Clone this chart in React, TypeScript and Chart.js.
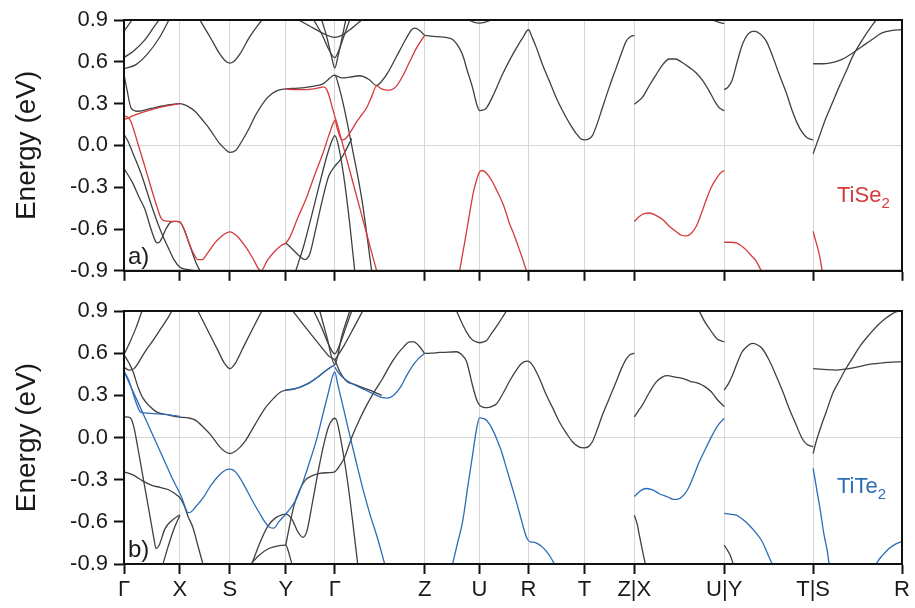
import React, { useEffect, useRef } from "react";
import { Chart, registerables } from "chart.js";
Chart.register(...registerables);

type Pt = [number, number];

// k-path positions of the high-symmetry points and their labels
const kPath = [0, 56, 106, 162, 211, 301, 356, 405, 461, 511, 601, 690, 779];
const kLabels = ["Γ", "X", "S", "Y", "Γ", "Z", "U", "R", "T", "Z|X", "U|Y", "T|S", "R"];
const eTicks = [-0.9, -0.6, -0.3, 0, 0.3, 0.6, 0.9];

// ---------- TiSe2 (panel a) : black bands ----------
const seTop1: Pt[] = [[0, 0.82], [4, 0.86], [8, 0.9]];
const seTop2: Pt[] = [[0, 0.63], [10, 0.68], [20, 0.75], [30, 0.85], [35, 0.9]];
const seTop3: Pt[] = [[0, 0.55], [12, 0.58], [24, 0.66], [36, 0.78], [45, 0.9]];
const seMain: Pt[] = [[0, 0.51], [3, 0.4], [7, 0.27], [14, 0.245], [27, 0.265], [44, 0.29], [56, 0.3], [64, 0.28], [71, 0.245], [80, 0.17], [87, 0.105], [95, 0.02], [101, -0.025], [106, -0.05], [112, -0.035], [118, 0.03], [124, 0.105], [132, 0.22], [141, 0.32], [148, 0.37], [154, 0.395], [162, 0.405], [172, 0.41], [181, 0.415], [194, 0.43], [200, 0.445], [204, 0.47], [208, 0.495], [211, 0.505], [216, 0.4], [221, 0.25], [228, 0.0], [238, -0.38], [248, -0.9]];
const seBump: Pt[] = [[211, 0.505], [218, 0.485], [226, 0.49], [236, 0.5], [245, 0.475], [253, 0.43], [258, 0.46], [264, 0.52], [273, 0.64], [282, 0.76], [288, 0.83], [291, 0.842], [296, 0.825], [301, 0.79]];
const seX1: Pt[] = [[0, 0.08], [4, 0.03], [8, -0.04], [17, -0.2], [27, -0.42], [36, -0.6], [44, -0.73], [50, -0.82], [56, -0.875], [63, -0.89], [72, -0.9]];
const seX2: Pt[] = [[0, -0.166], [8, -0.26], [15, -0.37], [21, -0.46], [27, -0.6], [31, -0.68], [33, -0.7], [36, -0.69], [42, -0.6], [47, -0.55], [52, -0.545], [56, -0.55], [60, -0.6], [66, -0.72], [72, -0.84], [76, -0.9]];
const seSTop: Pt[] = [[76, 0.9], [86, 0.78], [96, 0.655], [101, 0.61], [106, 0.59], [111, 0.61], [116, 0.655], [126, 0.78], [138, 0.9]];
const seYLow: Pt[] = [[162, -0.7], [168, -0.74], [175, -0.79], [181, -0.82], [186, -0.78], [192, -0.6], [199, -0.38], [205, -0.22], [211, -0.15], [216, -0.11], [221, -0.05], [228, 0.05]];
const seLambda: Pt[] = [[172, -0.9], [180, -0.72], [188, -0.5], [195, -0.3], [203, -0.08], [208, 0.03], [211, 0.07], [214, 0.02], [220, -0.22], [226, -0.56], [231, -0.9]];
const seGTop1: Pt[] = [[175, 0.9], [190, 0.84], [202, 0.795], [211, 0.775], [218, 0.79], [228, 0.84], [238, 0.9]];
const seGTop2: Pt[] = [[190, 0.9], [198, 0.8], [205, 0.69], [211, 0.63], [215, 0.68], [220, 0.78], [226, 0.9]];
const seGTop3: Pt[] = [[198, 0.9], [203, 0.78], [208, 0.63], [211, 0.555], [214, 0.63], [218, 0.76], [222, 0.9]];
const seZ: Pt[] = [[301, 0.79], [313, 0.78], [322, 0.775], [329, 0.76], [334, 0.72], [339, 0.65], [344, 0.53], [349, 0.415], [353, 0.3], [356, 0.25], [360, 0.255], [363, 0.27], [371, 0.38], [379, 0.51], [386, 0.61], [393, 0.7], [399, 0.77], [405, 0.83], [409, 0.77], [413, 0.7], [419, 0.58], [426, 0.46], [432, 0.355], [439, 0.25], [446, 0.16], [453, 0.083], [457, 0.05], [461, 0.04], [465, 0.045], [469, 0.07], [474, 0.16], [479, 0.27], [486, 0.42], [493, 0.56], [498, 0.66], [503, 0.75], [507, 0.78], [511, 0.79]];
const seUTop: Pt[] = [[345, 0.9], [350, 0.885], [356, 0.878], [362, 0.885], [368, 0.9]];
const seUYTop: Pt[] = [[589, 0.9], [595, 0.885], [601, 0.875]];
const seZX: Pt[] = [[511, 0.296], [519, 0.344], [526, 0.43], [533, 0.51], [540, 0.585], [546, 0.62], [552, 0.62], [559, 0.595], [566, 0.56], [573, 0.52], [580, 0.46], [586, 0.39], [592, 0.31], [596, 0.27], [601, 0.25]];
const seUY: Pt[] = [[601, 0.4], [605, 0.42], [609, 0.47], [614, 0.6], [619, 0.72], [625, 0.8], [631, 0.82], [637, 0.8], [643, 0.75], [650, 0.63], [656, 0.51], [663, 0.38], [669, 0.25], [674, 0.16], [679, 0.095], [684, 0.055], [690, 0.04]];
const seTS1: Pt[] = [[690, 0.586], [700, 0.586], [706, 0.59], [712, 0.6], [719, 0.617], [729, 0.66], [739, 0.71], [749, 0.76], [759, 0.807], [769, 0.825], [779, 0.83]];
const seTS2: Pt[] = [[690, -0.06], [693, 0.0], [696, 0.06], [702, 0.18], [709, 0.3], [716, 0.42], [723, 0.53], [729, 0.63], [736, 0.72], [744, 0.81], [753, 0.9]];

// ---------- TiSe2 (panel a) : red bands ----------
const seRed1: Pt[] = [[0, 0.185], [5, 0.2], [10, 0.215], [20, 0.24], [32, 0.265], [44, 0.285], [56, 0.3]];
const seRed2: Pt[] = [[0, 0.21], [4, 0.2], [7, 0.17], [14, 0.01], [20, -0.13], [27, -0.3], [33, -0.44], [37, -0.52], [40, -0.54], [47, -0.545], [53, -0.545], [56, -0.55], [60, -0.6], [65, -0.7], [70, -0.78], [74, -0.82], [78, -0.82], [84, -0.77], [91, -0.7], [98, -0.65], [106, -0.62], [113, -0.65], [121, -0.72], [129, -0.81], [137, -0.9], [144, -0.82], [151, -0.76], [157, -0.72], [162, -0.7], [166, -0.66], [174, -0.52], [183, -0.37], [191, -0.21], [199, -0.06], [205, 0.07], [209, 0.15], [211, 0.18], [214, 0.11], [218, 0.04], [222, 0.05], [228, 0.11], [233, 0.17], [238, 0.22], [243, 0.27], [248, 0.35], [253, 0.427], [258, 0.405], [264, 0.396], [268, 0.4], [273, 0.427], [280, 0.51], [286, 0.6], [293, 0.7], [301, 0.79]];
const seRed3: Pt[] = [[162, 0.405], [172, 0.4], [181, 0.4], [190, 0.405], [196, 0.415], [200, 0.42], [203, 0.4], [206, 0.34], [209, 0.26], [211, 0.21], [214, 0.14], [220, -0.02], [226, -0.18], [232, -0.34], [238, -0.5], [245, -0.69], [253, -0.9]];
const seRedU: Pt[] = [[336, -0.9], [341, -0.7], [346, -0.49], [350, -0.33], [353, -0.25], [356, -0.19], [359, -0.18], [363, -0.2], [368, -0.25], [373, -0.32], [380, -0.43], [386, -0.56], [391, -0.65], [396, -0.75], [403, -0.9]];
const seRedZX: Pt[] = [[511, -0.546], [516, -0.51], [521, -0.49], [526, -0.485], [532, -0.5], [539, -0.53], [546, -0.58], [553, -0.62], [558, -0.645], [563, -0.65], [568, -0.63], [573, -0.58], [578, -0.49], [583, -0.39], [588, -0.3], [593, -0.24], [597, -0.2], [601, -0.18]];
const seRedUY: Pt[] = [[601, -0.695], [607, -0.695], [613, -0.7], [618, -0.72], [623, -0.75], [628, -0.79], [633, -0.83], [638, -0.9]];
const seRedTS: Pt[] = [[690, -0.617], [692, -0.67], [694, -0.72], [697, -0.81], [699, -0.9]];

// ---------- TiTe2 (panel b) : black bands ----------
const teTop1: Pt[] = [[0, 0.59], [6, 0.68], [12, 0.78], [18, 0.9]];
const teTop2: Pt[] = [[0, 0.5], [5, 0.48], [10, 0.49], [21, 0.61], [30, 0.7], [37, 0.776], [43, 0.84], [48, 0.9]];
const teMain: Pt[] = [[0, 0.59], [5, 0.53], [9, 0.47], [14, 0.36], [19, 0.28], [26, 0.22], [33, 0.18], [45, 0.16], [56, 0.145], [64, 0.14], [71, 0.125], [80, 0.07], [87, 0.017], [95, -0.06], [101, -0.1], [106, -0.114], [111, -0.1], [116, -0.07], [121, -0.03], [131, 0.09], [141, 0.206], [150, 0.28], [156, 0.32], [162, 0.337], [170, 0.345], [177, 0.36], [186, 0.39], [194, 0.43], [201, 0.47], [207, 0.5], [211, 0.515]];
const teLow1: Pt[] = [[0, 0.147], [4, 0.145], [7, 0.135], [10, 0.07], [14, -0.08], [18, -0.24], [21, -0.36], [24, -0.48], [27, -0.6], [30, -0.72], [32, -0.79], [35, -0.77], [41, -0.65], [48, -0.59], [56, -0.55]];
const teLow2: Pt[] = [[0, -0.244], [10, -0.27], [19, -0.31], [28, -0.34], [36, -0.355], [44, -0.37], [49, -0.39], [53, -0.41], [56, -0.43], [60, -0.48], [64, -0.56], [69, -0.64], [74, -0.77], [79, -0.9]];
const teLow3: Pt[] = [[39, -0.9], [44, -0.78], [49, -0.67], [53, -0.6], [56, -0.555]];
const teSTop: Pt[] = [[74, 0.9], [84, 0.76], [94, 0.62], [100, 0.535], [106, 0.49], [112, 0.535], [120, 0.65], [130, 0.79], [138, 0.9]];
const teY1: Pt[] = [[127, -0.9], [135, -0.84], [145, -0.79], [155, -0.77], [162, -0.766], [165, -0.82], [168, -0.9]];
const teY2: Pt[] = [[128, -0.9], [136, -0.75], [144, -0.63], [152, -0.57], [158, -0.55], [162, -0.545], [168, -0.58], [174, -0.67], [179, -0.71], [183, -0.67], [189, -0.45], [195, -0.22], [200, -0.05], [205, 0.08], [209, 0.13], [211, 0.137], [213, 0.12], [218, -0.05], [224, -0.32], [229, -0.6], [234, -0.9]];
const teRise: Pt[] = [[162, -0.766], [166, -0.62], [170, -0.49], [176, -0.37], [182, -0.3], [186, -0.28], [196, -0.256], [205, -0.25], [211, -0.244], [216, -0.2], [221, -0.14], [225, -0.06], [229, 0.017], [236, 0.13], [243, 0.23], [251, 0.33], [259, 0.42], [266, 0.51], [273, 0.586], [280, 0.645], [286, 0.68], [290, 0.68], [295, 0.655], [301, 0.598]];
const teGTop1: Pt[] = [[169, 0.9], [180, 0.8], [190, 0.71], [198, 0.64], [205, 0.58], [211, 0.55], [216, 0.47], [223, 0.4], [232, 0.375], [241, 0.35], [250, 0.325], [258, 0.3]];
const teGTop2: Pt[] = [[190, 0.9], [198, 0.78], [205, 0.66], [211, 0.595], [216, 0.66], [222, 0.78], [228, 0.9]];
const teGTop3: Pt[] = [[196, 0.9], [203, 0.72], [211, 0.52], [218, 0.72], [226, 0.9]];
const teGTop4: Pt[] = [[211, 0.55], [220, 0.65], [230, 0.78], [239, 0.9]];
const teZ: Pt[] = [[301, 0.598], [308, 0.6], [316, 0.605], [325, 0.607], [333, 0.61], [338, 0.59], [343, 0.54], [346, 0.46], [349, 0.37], [353, 0.27], [356, 0.23], [360, 0.215], [364, 0.213], [368, 0.22], [373, 0.24], [380, 0.32], [386, 0.4], [392, 0.47], [398, 0.527], [404, 0.543], [409, 0.515], [416, 0.42], [423, 0.3], [430, 0.2], [436, 0.11], [443, 0.03], [449, -0.03], [455, -0.065], [461, -0.074], [465, -0.065], [469, -0.03], [474, 0.06], [479, 0.16], [486, 0.28], [493, 0.4], [498, 0.49], [503, 0.56], [507, 0.59], [511, 0.6]];
const teUTop: Pt[] = [[333, 0.9], [338, 0.82], [343, 0.75], [348, 0.7], [353, 0.68], [356, 0.674], [360, 0.68], [363, 0.69], [368, 0.74], [373, 0.79], [378, 0.845], [383, 0.9]];
const teZX: Pt[] = [[511, 0.147], [515, 0.19], [519, 0.23], [526, 0.32], [533, 0.396], [539, 0.43], [544, 0.44], [552, 0.43], [559, 0.42], [567, 0.4], [576, 0.384], [582, 0.36], [588, 0.325], [594, 0.27], [601, 0.22]];
const teZXTop: Pt[] = [[576, 0.9], [581, 0.83], [586, 0.776], [590, 0.735], [594, 0.7], [601, 0.68]];
const teZXLow: Pt[] = [[511, -0.553], [514, -0.62], [516, -0.695], [519, -0.8], [522, -0.9]];
const teUY: Pt[] = [[601, 0.337], [605, 0.38], [609, 0.44], [614, 0.53], [619, 0.61], [624, 0.65], [629, 0.67], [634, 0.66], [639, 0.633], [646, 0.55], [653, 0.44], [660, 0.32], [666, 0.206], [673, 0.09], [679, -0.007], [684, -0.05], [690, -0.066]];
const teUYLow: Pt[] = [[601, -0.766], [604, -0.8], [607, -0.837], [610, -0.9]];
const teTS1: Pt[] = [[690, 0.49], [700, 0.485], [713, 0.48], [726, 0.49], [736, 0.505], [746, 0.52], [762, 0.533], [779, 0.54]];
const teTS2: Pt[] = [[690, -0.114], [693, -0.03], [698, 0.08], [703, 0.18], [710, 0.32], [716, 0.4], [722, 0.48], [729, 0.56], [737, 0.65], [746, 0.73], [755, 0.8], [763, 0.85], [773, 0.894], [779, 0.9]];

// ---------- TiTe2 (panel b) : blue bands ----------
const teBlue1: Pt[] = [[0, 0.47], [4, 0.42], [8, 0.34], [12, 0.25], [16, 0.185], [20, 0.175], [30, 0.17], [40, 0.165], [50, 0.156], [56, 0.15]];
const teBlue2: Pt[] = [[0, 0.47], [7, 0.36], [14, 0.25], [21, 0.14], [28, 0.03], [35, -0.08], [42, -0.19], [49, -0.3], [54, -0.37], [58, -0.43], [61, -0.49], [64, -0.535], [67, -0.53], [71, -0.5], [80, -0.42], [87, -0.34], [95, -0.27], [101, -0.235], [106, -0.225], [111, -0.24], [118, -0.31], [127, -0.43], [135, -0.53], [141, -0.6], [146, -0.64], [150, -0.645], [155, -0.6], [162, -0.545], [168, -0.49], [173, -0.43], [180, -0.3], [186, -0.17], [193, -0.01], [199, 0.16], [205, 0.33], [209, 0.44], [211, 0.467], [214, 0.38], [220, 0.2], [226, 0.017], [232, -0.16], [239, -0.36], [246, -0.54], [254, -0.72], [261, -0.9]];
const teBlueYG: Pt[] = [[162, 0.337], [170, 0.345], [177, 0.36], [186, 0.39], [194, 0.43], [201, 0.47], [207, 0.5], [211, 0.515]];
const teBlueZ: Pt[] = [[211, 0.5], [216, 0.45], [223, 0.405], [232, 0.37], [241, 0.34], [250, 0.31], [258, 0.285], [264, 0.28], [270, 0.3], [277, 0.36], [283, 0.44], [290, 0.52], [296, 0.57], [301, 0.598]];
const teBlueU: Pt[] = [[329, -0.9], [334, -0.75], [339, -0.6], [344, -0.36], [349, -0.126], [353, 0.06], [356, 0.14], [360, 0.135], [363, 0.123], [368, 0.07], [373, -0.007], [378, -0.1], [383, -0.22], [388, -0.34], [393, -0.46], [398, -0.59], [403, -0.71], [406, -0.74], [410, -0.745], [414, -0.755], [419, -0.78], [423, -0.81], [427, -0.85], [431, -0.9]];
const teBlueZX: Pt[] = [[511, -0.42], [517, -0.38], [523, -0.363], [530, -0.375], [536, -0.4], [545, -0.425], [550, -0.44], [554, -0.44], [559, -0.42], [564, -0.375], [570, -0.28], [576, -0.173], [583, -0.07], [589, 0.017], [595, 0.09], [601, 0.135]];
const teBlueUY: Pt[] = [[601, -0.54], [606, -0.545], [613, -0.553], [620, -0.585], [626, -0.624], [633, -0.68], [639, -0.74], [644, -0.82], [649, -0.9]];
const teBlueTS: Pt[] = [[690, -0.22], [692, -0.3], [694, -0.387], [697, -0.51], [701, -0.695], [704, -0.8], [706, -0.9]];
const teBlueR: Pt[] = [[753, -0.9], [758, -0.85], [762, -0.82], [766, -0.79], [772, -0.76], [779, -0.74]];

const tise2Black = [seTop1, seTop2, seTop3, seMain, seBump, seX1, seX2, seSTop, seYLow, seLambda, seGTop1, seGTop2, seGTop3, seZ, seUTop, seUYTop, seZX, seUY, seTS1, seTS2];
const tise2Red = [seRed1, seRed2, seRed3, seRedU, seRedZX, seRedUY, seRedTS];
const tite2Black = [teTop1, teTop2, teMain, teLow1, teLow2, teLow3, teSTop, teY1, teY2, teRise, teGTop1, teGTop2, teGTop3, teGTop4, teZ, teUTop, teZX, teZXTop, teZXLow, teUY, teUYLow, teTS1, teTS2];
const tite2Blue = [teBlue1, teBlue2, teBlueYG, teBlueZ, teBlueU, teBlueZX, teBlueUY, teBlueTS, teBlueR];

const BLACK = "#404040";
const RED = "#d63a3a";
const BLUE = "#2c6db6";
const FONT = "'Liberation Sans', Arial, sans-serif";

type PanelSpec = {
  black: Pt[][];
  color: Pt[][];
  colorHex: string;
  panelLabel: string;
  material: string;
  showXLabels: boolean;
  padTop: number;
  xHeight: number;
};

function makeChart(canvas: HTMLCanvasElement, spec: PanelSpec) {
  const mk = (pts: Pt[], col: string, order: number) => ({
    data: pts.map(([x, y]) => ({ x, y })),
    borderColor: col,
    borderWidth: 1.3,
    pointRadius: 0,
    cubicInterpolationMode: "monotone" as const,
    fill: false,
    order,
  });
  const datasets = [
    ...spec.color.map((p) => mk(p, spec.colorHex, 0)),
    ...spec.black.map((p) => mk(p, BLACK, 1)),
  ];
  const textPlugin = {
    id: "texts",
    afterDraw(chart: any) {
      const { ctx, chartArea: a } = chart;
      ctx.save();
      ctx.strokeStyle = "#111";
      ctx.lineWidth = 2;
      ctx.strokeRect(a.left, a.top, a.right - a.left, a.bottom - a.top);
      // y title
      ctx.translate(27, (a.top + a.bottom) / 2);
      ctx.rotate(-Math.PI / 2);
      ctx.fillStyle = "#1a1a1a";
      ctx.font = `28px ${FONT}`;
      ctx.textAlign = "center";
      ctx.textBaseline = "middle";
      ctx.fillText("Energy (eV)", 0, 0);
      ctx.restore();
      ctx.save();
      ctx.fillStyle = "#1a1a1a";
      ctx.font = `24px ${FONT}`;
      ctx.textAlign = "left";
      ctx.textBaseline = "alphabetic";
      ctx.fillText(spec.panelLabel, a.left + 4, a.bottom - 7);
      ctx.fillStyle = spec.colorHex;
      ctx.font = `22px ${FONT}`;
      const tx = 837;
      const ty = a.top + 182;
      ctx.fillText(spec.material, tx, ty);
      const w = ctx.measureText(spec.material).width;
      ctx.font = `15px ${FONT}`;
      ctx.fillText("2", tx + w, ty + 6);
      ctx.restore();
    },
  };
  return new Chart(canvas, {
    type: "line",
    data: { datasets },
    plugins: [textPlugin],
    options: {
      animation: false,
      responsive: false,
      devicePixelRatio: 1,
      events: [],
      layout: { padding: { top: spec.padTop, right: 13, left: 0, bottom: 0 } },
      plugins: { legend: { display: false }, tooltip: { enabled: false } },
      scales: {
        x: {
          type: "linear",
          min: 0,
          max: kPath[kPath.length - 1],
          afterBuildTicks: (s: any) => {
            s.ticks = kPath.map((v) => ({ value: v }));
          },
          afterFit: (s: any) => {
            s.height = spec.xHeight;
          },
          grid: { color: "#d6d6d6", lineWidth: 1, tickColor: "#111", tickLength: 10, tickWidth: 2 },
          border: { color: "#111", width: 2 },
          ticks: {
            display: spec.showXLabels,
            autoSkip: false,
            maxRotation: 0,
            padding: 3,
            color: "#1a1a1a",
            font: { family: FONT, size: 22 },
            callback: (_v: any, i: number) => kLabels[i],
          },
        },
        y: {
          type: "linear",
          min: -0.9,
          max: 0.9,
          afterBuildTicks: (s: any) => {
            s.ticks = eTicks.map((v) => ({ value: v }));
          },
          afterFit: (s: any) => {
            s.width = 124;
          },
          grid: {
            color: (c: any) => (Math.abs(c.tick?.value ?? 1) < 1e-9 ? "#d6d6d6" : "rgba(0,0,0,0)"),
            lineWidth: 1,
            tickColor: "#111",
            tickLength: 10,
            tickWidth: 2,
          },
          border: { color: "#111", width: 2 },
          ticks: {
            padding: 6,
            color: "#1a1a1a",
            font: { family: FONT, size: 22 },
            callback: (v: any) => (Math.abs(v) < 1e-9 ? "0.0" : Number(v).toFixed(1)),
          },
        },
      },
    } as any,
  });
}

export default function App() {
  const refA = useRef<HTMLCanvasElement>(null);
  const refB = useRef<HTMLCanvasElement>(null);
  useEffect(() => {
    const a = makeChart(refA.current!, {
      black: tise2Black,
      color: tise2Red,
      colorHex: RED,
      panelLabel: "a)",
      material: "TiSe",
      showXLabels: false,
      padTop: 20,
      xHeight: 17,
    });
    const b = makeChart(refB.current!, {
      black: tite2Black,
      color: tite2Blue,
      colorHex: BLUE,
      panelLabel: "b)",
      material: "TiTe",
      showXLabels: true,
      padTop: 21,
      xHeight: 44,
    });
    return () => {
      a.destroy();
      b.destroy();
    };
  }, []);
  return (
    <div style={{ position: "fixed", left: 0, top: 0, width: 915, height: 608, background: "#fff" }}>
      <canvas ref={refA} width={915} height={290} style={{ position: "absolute", left: 0, top: 0 }} />
      <canvas ref={refB} width={915} height={318} style={{ position: "absolute", left: 0, top: 290 }} />
    </div>
  );
}
